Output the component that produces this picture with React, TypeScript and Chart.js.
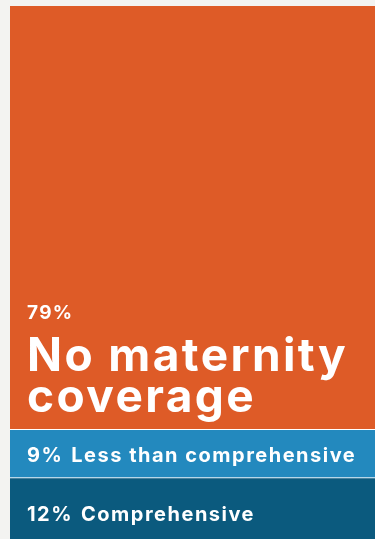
import React, { useEffect, useRef } from "react";
import { Chart, registerables } from "chart.js";

Chart.register(...registerables);

const categories = ["Maternity coverage"];
const seriesNames = ["Comprehensive", "Less than comprehensive", "No maternity coverage"];
const seriesValues = [12, 9, 79];
const seriesLabels = ["12%", "9%", "79%"];
const seriesColors = ["#0B5A7E", "#2389BE", "#DE5B27"];

const FONT = "Inter, 'DejaVu Sans', sans-serif";

const labelPlugin = {
  id: "segmentLabels",
  afterDatasetsDraw(chart: any) {
    const ctx = chart.ctx;
    const left = chart.chartArea.left + 17;
    ctx.save();
    ctx.fillStyle = "#ffffff";
    ctx.textAlign = "left";
    ctx.textBaseline = "alphabetic";
    chart.data.datasets.forEach((ds: any, i: number) => {
      const el = chart.getDatasetMeta(i).data[0];
      if (!el) return;
      const top = Math.min(el.y, el.base);
      const bottom = Math.max(el.y, el.base);
      const pct = seriesLabels[i];
      const name = seriesNames[i];
      if (i === 2) {
        ctx.font = `bold 19px ${FONT}`;
        ctx.letterSpacing = "1.3px";
        ctx.fillText(pct, left, bottom - 110);
        ctx.font = `bold 46px ${FONT}`;
        ctx.letterSpacing = "2.4px";
        const words = name.split(" ");
        ctx.fillText(words.slice(0, 2).join(" "), left, bottom - 58);
        ctx.fillText(words.slice(2).join(" "), left, bottom - 17);
      } else {
        ctx.font = `bold 20px ${FONT}`;
        ctx.letterSpacing = "1.5px";
        const baseline = i === 1 ? top + 33 : top + 43;
        ctx.fillText(pct, left, baseline);
        const w = ctx.measureText(pct).width;
        ctx.fillText(name, left + w + 8, baseline);
      }
    });
    ctx.restore();
  },
};

export default function App() {
  const ref = useRef<HTMLCanvasElement>(null);
  useEffect(() => {
    document.body.style.margin = "0";
    const chart = new Chart(ref.current!, {
      type: "bar",
      data: {
        labels: categories,
        datasets: seriesValues.map((v, i) => ({
          label: seriesNames[i],
          data: [v],
          backgroundColor: seriesColors[i],
          borderColor: "#ffffff",
          borderWidth: i === 2 ? 0 : { top: 1, left: 0, right: 0, bottom: 0 },
          borderSkipped: false,
          categoryPercentage: 1,
          barPercentage: 1,
        })),
      },
      options: {
        animation: false,
        responsive: false,
        maintainAspectRatio: false,
        layout: { padding: 0 },
        plugins: { legend: { display: false }, tooltip: { enabled: false } },
        scales: {
          x: { stacked: true, display: false },
          y: { stacked: true, display: false, min: 0, max: 100 },
        },
      },
      plugins: [labelPlugin],
    });
    return () => chart.destroy();
  }, []);
  return (
    <div style={{ position: "relative", width: 375, height: 539, overflow: "hidden", background: "#F3F3F1" }}>
      <canvas
        ref={ref}
        width={365}
        height={536}
        style={{ position: "absolute", left: 10, top: 6, width: 365, height: 536 }}
      />
    </div>
  );
}
